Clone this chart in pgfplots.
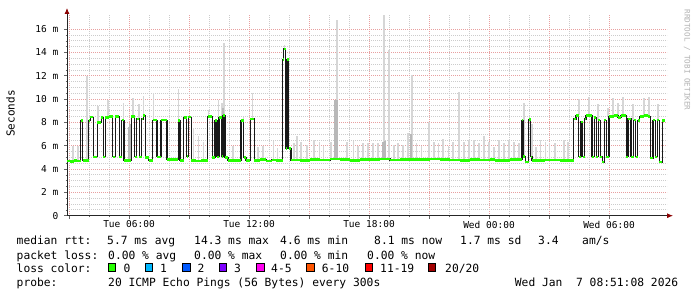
\documentclass[border=0pt]{standalone}
\usepackage{fontspec}
\setmainfont{DejaVu Sans Mono}
\usepackage{pgfplots}
\pgfplotsset{compat=1.18}
\usepackage{pgfplotstable}
\usetikzlibrary{arrows.meta}
\definecolor{loss0}{HTML}{26FF00}
\definecolor{loss1}{HTML}{00B8FF}
\definecolor{loss2}{HTML}{0059FF}
\definecolor{loss3}{HTML}{7E00FF}
\definecolor{loss45}{HTML}{FF00F0}
\definecolor{loss610}{HTML}{FF5500}
\definecolor{loss1119}{HTML}{FF0000}
\definecolor{loss20}{HTML}{A10000}
\definecolor{smokelight}{HTML}{D6D6D6}
\definecolor{smokedark}{HTML}{B8B8B8}
\definecolor{gridminor}{HTML}{CCCCCC}
\definecolor{gridmajor}{HTML}{E8A0A0}
\definecolor{arrowred}{HTML}{8B0000}

% median rtt (ms), time in hours since Tue 00:00, step value held until next row
\pgfplotstableread{
x y
2.850 4.70
3.050 4.65
3.250 4.72
3.400 4.68
3.585 8.15
3.685 4.72
3.985 8.15
4.065 8.45
4.215 5.05
4.415 8.00
4.615 8.40
4.715 5.05
4.815 8.40
5.000 8.50
5.185 5.05
5.315 8.50
5.515 5.05
5.625 8.20
5.750 4.72
6.115 8.50
6.285 5.05
6.385 8.30
6.515 5.05
6.635 8.30
6.715 8.60
6.815 5.00
6.985 4.72
7.175 8.20
7.400 5.05
7.600 8.20
7.900 4.80
8.465 8.15
8.550 4.75
8.735 8.40
8.885 5.10
8.965 8.45
9.115 4.75
9.350 4.70
9.600 4.75
9.935 8.50
10.165 5.00
10.300 8.15
10.400 5.05
10.500 8.40
10.625 5.10
10.700 8.60
10.800 5.00
10.950 4.75
11.600 8.15
11.735 5.00
11.850 4.75
12.065 8.30
12.265 4.75
12.550 4.80
12.850 4.70
13.150 4.78
13.350 4.72
13.685 13.40
13.730 14.30
13.830 5.75
13.900 13.40
13.975 5.75
14.100 4.78
14.550 4.75
15.050 4.82
15.550 4.78
16.050 4.85
16.550 4.80
17.050 4.76
17.550 4.82
18.050 4.80
18.550 4.86
19.050 4.78
19.550 4.80
20.050 4.84
20.550 4.80
21.050 4.86
21.550 4.80
22.050 4.78
22.550 4.74
23.050 4.80
23.550 4.78
24.050 4.82
24.300 4.72
24.550 4.76
25.050 4.80
25.650 8.20
25.715 5.10
25.815 4.60
25.985 8.25
26.085 5.05
26.150 4.75
26.800 4.78
27.550 4.75
28.235 8.30
28.350 8.60
28.485 5.05
28.600 8.05
28.690 5.05
28.775 8.30
28.850 8.60
29.150 5.05
29.265 8.40
29.365 5.05
29.465 8.20
29.565 5.05
29.665 4.60
29.765 8.20
29.865 5.05
30.000 8.50
30.250 8.60
30.450 8.40
30.600 8.60
30.865 5.05
30.950 8.30
31.100 5.05
31.225 8.20
31.325 5.05
31.425 8.15
31.535 8.50
31.750 8.60
31.950 8.50
32.065 4.95
32.200 8.20
32.315 5.05
32.415 8.20
32.515 4.60
32.665 8.15
32.815 8.15
}\median

% smoke spikes: base b and top t (ms)
\pgfplotstableread{
x b t
3.185 4.70 6.00
3.435 4.70 6.00
3.885 4.72 12.00
4.450 8.00 9.40
4.950 8.40 9.90
5.715 5.05 9.70
6.185 8.50 10.07
6.485 8.30 9.60
6.715 8.60 10.30
7.215 8.20 10.50
8.465 8.15 10.90
9.215 4.75 7.50
9.465 4.75 6.80
9.715 4.75 6.30
9.965 8.50 9.10
10.465 8.40 9.90
10.635 8.40 9.70
10.735 8.60 14.80
11.200 4.75 6.00
11.715 5.00 8.50
12.165 8.30 10.50
12.450 4.80 5.90
12.700 4.75 6.00
13.215 4.78 6.40
13.415 4.72 5.80
13.780 14.30 14.60
14.250 4.78 6.20
14.400 4.78 6.80
14.585 4.75 6.30
14.900 4.78 6.10
15.250 4.82 6.50
15.515 4.80 6.30
15.715 4.80 6.00
16.085 4.85 6.30
16.385 4.80 16.80
16.885 4.80 6.30
17.215 4.78 6.40
17.450 4.80 6.00
17.700 4.80 6.20
17.950 4.80 6.20
18.200 4.80 6.20
18.450 4.85 6.20
18.750 4.85 17.20
19.000 4.80 14.20
19.235 4.78 6.10
19.450 4.80 6.20
19.700 4.80 6.10
19.950 4.80 7.07
20.135 4.84 12.10
20.365 4.80 6.20
20.615 4.80 6.00
21.000 4.86 8.06
21.235 4.80 6.30
21.465 4.80 6.20
21.700 4.80 6.60
21.965 4.78 6.00
22.200 4.78 6.30
22.485 4.74 10.60
22.735 4.74 6.35
22.985 4.80 6.50
23.235 4.80 6.50
23.485 4.78 6.20
23.735 4.78 6.80
23.985 4.82 6.35
24.235 4.76 5.90
24.485 4.76 6.50
24.735 4.76 6.20
24.985 4.80 6.50
25.235 4.80 6.35
25.485 4.80 6.20
25.750 5.10 9.64
26.150 4.75 7.90
26.350 4.75 5.90
26.565 4.78 6.50
26.815 4.78 6.35
27.015 4.78 6.20
27.285 4.75 6.20
27.735 4.75 6.50
27.935 4.75 6.30
28.500 8.60 10.00
29.000 8.60 10.20
29.450 8.20 9.60
29.950 8.50 9.20
30.200 8.60 10.10
30.450 8.40 9.70
30.700 8.60 10.20
31.200 8.20 9.60
31.735 8.60 10.10
32.000 8.50 10.20
32.450 8.20 9.60
}\smoke

\pgfplotstableread{
x b t
5.975 4.80 7.60
6.050 4.80 7.90
10.700 8.60 9.20
16.300 4.80 9.90
16.400 4.80 9.90
18.700 4.85 6.30
18.800 4.85 6.40
20.100 4.84 7.00
}\smokedk

\newcommand{\tickfont}{\fontsize{9.5bp}{11bp}\selectfont}
\newcommand{\legfont}{\fontsize{11.3bp}{13bp}\selectfont}

\begin{document}
\begin{tikzpicture}
\path[use as bounding box, fill=white] (0,0) rectangle (697bp,297bp);
\begin{axis}[
  at={(67bp,81.3bp)}, anchor=south west,
  scale only axis, width=600bp, height=201.7bp,
  xmin=2.9, xmax=32.9, ymin=0, ymax=17.3,
  axis x line=bottom, axis y line=left,
  x axis line style={black!85, line width=0.8bp, -{Latex[length=6bp,width=5bp,color=arrowred]}, shorten >=-6bp},
  y axis line style={black!85, line width=0.8bp, -{Latex[length=6bp,width=5bp,color=arrowred]}, shorten >=-6bp},
  xtick={3,6,...,30},
  xticklabels={,Tue 06:00,,Tue 12:00,,Tue 18:00,,Wed 00:00,,Wed 06:00},
  minor x tick num=2,
  ytick={0,2,...,16},
  yticklabels={0,2 m,4 m,6 m,8 m,10 m,12 m,14 m,16 m},
  minor y tick num=3,
  grid=both,
  major grid style={gridmajor, dash pattern=on 1bp off 1bp, line width=0.8bp},
  minor grid style={gridminor, dash pattern=on 1bp off 1bp, line width=0.8bp},
  tick align=outside,
  major tick length=3bp, minor tick length=1.5bp,
  tick style={black!60, line width=0.6bp},
  /pgf/number format/assume math mode=true,
  xticklabel style={font=\tickfont, inner sep=0pt, yshift=-2bp},
  yticklabel style={font=\tickfont, inner sep=0pt, xshift=-5.5bp},
]
\addplot[draw=none, mark=none, forget plot,
  error bars/.cd, y dir=plus, y explicit, error mark=none,
  error bar style={line width=1.6bp, draw=smokelight, solid}]
  table[x=x, y=b, y error expr=\thisrow{t}-\thisrow{b}] {\smoke};
\addplot[draw=none, mark=none, forget plot,
  error bars/.cd, y dir=plus, y explicit, error mark=none,
  error bar style={line width=1.6bp, draw=smokedark, solid}]
  table[x=x, y=b, y error expr=\thisrow{t}-\thisrow{b}] {\smokedk};
\addplot[const plot, black!90, line width=1.15bp, mark=none] table[x=x, y=y] {\median};
\addplot[jump mark left, loss0, line width=2.6bp, mark=none] table[x=x, y=y] {\median};
\end{axis}

% axis label and watermark
\node[rotate=90, font=\fontsize{11bp}{13bp}\selectfont, inner sep=0pt] at (10.5bp,183.5bp) {Seconds};
\node[rotate=-90, font=\fontsize{7.6bp}{9bp}\selectfont, text=black!30, inner sep=0pt] at (687bp,237bp) {RRDTOOL / TOBI OETIKER};

% legend
\begin{scope}[every node/.style={anchor=base west, inner sep=0pt, font=\legfont}]
\node at (16.5bp,52bp) {median rtt:};
\node at (107bp,52bp) {5.7 ms avg};
\node at (194bp,52bp) {14.3 ms max};
\node at (280bp,52bp) {4.6 ms min};
\node at (374bp,52bp) {8.1 ms now};
\node at (460bp,52bp) {1.7 ms sd};
\node at (538bp,52bp) {3.4};
\node at (582bp,52bp) {am/s};

\node at (16.5bp,38bp) {packet loss:};
\node at (108bp,38bp) {0.00 \% avg};
\node at (194bp,38bp) {0.00 \% max};
\node at (280bp,38bp) {0.00 \% min};
\node at (367bp,38bp) {0.00 \% now};

\node at (16.5bp,25bp) {loss color:};
\node at (123.3bp,25bp) {0};
\node at (160bp,25bp) {1};
\node at (197.3bp,25bp) {2};
\node at (234bp,25bp) {3};
\node at (271bp,25bp) {4-5};
\node at (321.7bp,25bp) {6-10};
\node at (380bp,25bp) {11-19};
\node at (445bp,25bp) {20/20};

\node at (16.5bp,10.5bp) {probe:};
\node at (108bp,10.5bp) {20 ICMP Echo Pings (56 Bytes) every 300s};
\node at (514.7bp,10.5bp) {Wed Jan\ \ 7 08:51:08 2026};
\end{scope}
\begin{scope}[line width=0.8bp, draw=black]
\filldraw[fill=loss0] (108.3bp,26bp) rectangle (115.7bp,33.7bp);
\filldraw[fill=loss1] (145.7bp,26bp) rectangle (152.7bp,33.7bp);
\filldraw[fill=loss2] (182.7bp,26bp) rectangle (190bp,33.7bp);
\filldraw[fill=loss3] (219.3bp,26bp) rectangle (226.7bp,33.7bp);
\filldraw[fill=loss45] (256.7bp,26bp) rectangle (264bp,33.7bp);
\filldraw[fill=loss610] (306.7bp,26bp) rectangle (314bp,33.7bp);
\filldraw[fill=loss1119] (365bp,26bp) rectangle (372.3bp,33.7bp);
\filldraw[fill=loss20] (428.3bp,26bp) rectangle (435.7bp,33.7bp);
\end{scope}
\end{tikzpicture}
\end{document}
